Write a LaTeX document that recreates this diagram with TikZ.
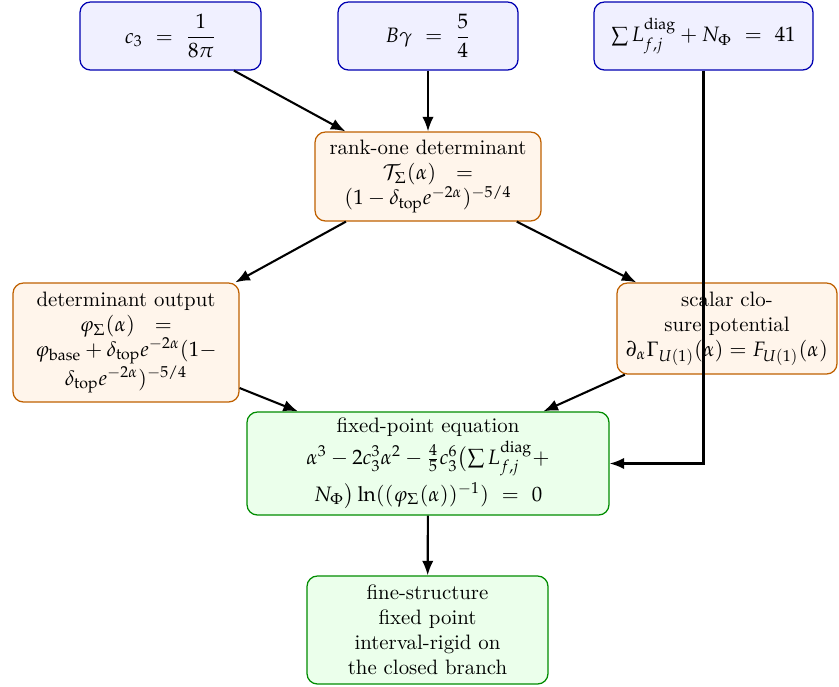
\documentclass[tikz,border=0pt]{standalone}
\usepackage{amsmath}
\usepackage{mathpazo}
\usetikzlibrary{arrows.meta}
\begin{document}
\begin{tikzpicture}[x=0.48pt,y=-0.48pt,
  box/.style={draw, rounded corners=5pt, align=center, inner sep=2pt, line width=0.6pt},
  bluebox/.style={box, fill=blue!6, draw=blue!70!black},
  orangebox/.style={box, fill=orange!8, draw=orange!75!black},
  greenbox/.style={box, fill=green!8, draw=green!55!black},
  arr/.style={-{Latex[length=7pt,width=5.5pt]}, line width=1pt}]
\useasboundingbox (0,0) rectangle (839,686);
\node[bluebox, minimum width=181*0.48pt, minimum height=68*0.48pt] (c3) at (170.5,36)
  {$c_3 \ = \ \dfrac{1}{8\pi}$};
\node[bluebox, minimum width=180*0.48pt, minimum height=68*0.48pt] (bg) at (428,36)
  {$B\gamma \ = \ \dfrac{5}{4}$};
\node[bluebox, minimum width=219*0.48pt, minimum height=68*0.48pt] (sum) at (703.5,36)
  {$\sum L_{f,j}^{\mathrm{diag}} + N_\Phi \ = \ 41$};
\node[orangebox, minimum width=226*0.48pt, minimum height=89*0.48pt] (rank) at (428,176.5)
  {rank-one determinant\\ $\mathcal{T}_\Sigma(\alpha) \ \ =$\\ $(1-\delta_{\mathrm{top}} e^{-2\alpha})^{-5/4}$};
\node[orangebox, minimum width=226*0.48pt, minimum height=119*0.48pt] (det) at (126,342.5)
  {determinant output\\ $\varphi_\Sigma(\alpha) \ \ =$\\ $\varphi_{\mathrm{base}} + \delta_{\mathrm{top}}e^{-2\alpha}(1-$\\ $\delta_{\mathrm{top}}e^{-2\alpha})^{-5/4}$};
\node[orangebox, minimum width=220*0.48pt, minimum height=91*0.48pt] (scalar) at (727,328.5)
  {scalar clo-\\sure potential\\ $\partial_\alpha\Gamma_{U(1)}(\alpha) = F_{U(1)}(\alpha)$};
\node[greenbox, minimum width=362*0.48pt, minimum height=103*0.48pt] (fixed) at (428,463.5)
  {fixed-point equation\\[1pt] $\alpha^3 - 2c_3^3\alpha^2 - \frac45 c_3^6\bigl(\sum L_{f,j}^{\mathrm{diag}} +$\\[2pt] $N_\Phi\bigr)\ln((\varphi_\Sigma(\alpha))^{-1}) \ = \ 0$};
\node[greenbox, minimum width=241*0.48pt, minimum height=108*0.48pt] (fine) at (427.5,630)
  {fine-structure\\fixed point\\interval-rigid on\\the closed branch};
\draw[arr] (c3) -- (rank);
\draw[arr] (bg) -- (rank);
\draw[arr] (rank) -- (det);
\draw[arr] (rank) -- (scalar);
\draw[arr] (det) -- (fixed);
\draw[arr] (scalar) -- (fixed);
\draw[arr] (sum.south) |- (fixed.east);
\draw[arr] (fixed) -- (fine);
\end{tikzpicture}
\end{document}
